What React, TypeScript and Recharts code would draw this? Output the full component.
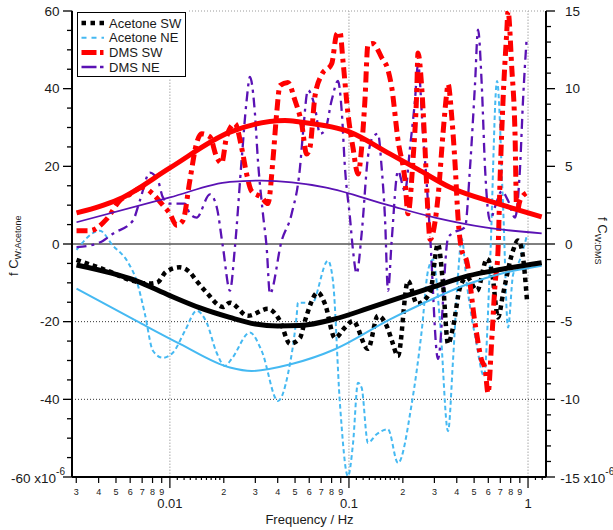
import React from "react";
import { LineChart, Line, XAxis, YAxis, ReferenceLine } from "recharts";

const FONT = "'Liberation Sans', Arial, Helvetica, sans-serif";
const INK = "#1a1a1a";

const C_BLACK = "#000000";
const C_BLUE = "#45b9f2";
const C_RED = "#ff0000";
const C_PURPLE = "#5a12b4";

// [frequency Hz, value]; Acetone on the left axis, DMS on the right axis (x10^-6)
const ACETONE_SW: [number, number][] = [
  [0.00301, -4.1], [0.00443, -6.8], [0.00621, -9.5], [0.00773, -10.2], [0.00857, -9.8],
  [0.0095, -7.2], [0.01137, -6.0], [0.01293, -7.3], [0.0141, -9.5], [0.01603, -12.5],
  [0.01978, -16.2], [0.02164, -15.1], [0.02728, -18.5], [0.03528, -16.7], [0.04118, -19.8],
  [0.04682, -25.7], [0.05325, -24.2], [0.05678, -19.8], [0.06711, -12.5], [0.07345, -15.4],
  [0.08354, -24.2], [0.095, -21.5], [0.1053, -19.8], [0.1276, -27.0], [0.1452, -18.5],
  [0.1652, -21.9], [0.1739, -25], [0.1878, -28.8], [0.2136, -9.5], [0.2399, -15.4],
  [0.2835, -12.6], [0.3142, 0], [0.3351, -10.2], [0.3575, -25.7], [0.3811, -21.5],
  [0.4171, -11.2], [0.4563, -8.6], [0.519, -12], [0.5902, -3.8], [0.6295, -7.3],
  [0.6801, -18.9], [0.7252, -12.9], [0.8245, -1.7], [0.879, 0.9], [0.9256, -1.7], [0.9872, -14.6],
];

const ACETONE_NE: [number, number][] = [
  [0.00301, -1.5], [0.00406, 3.4], [0.0048, -0.4], [0.00583, -4.7], [0.00652, -9.5],
  [0.00725, -18], [0.00804, -27.5], [0.00914, -29.3], [0.01039, -28], [0.01213, -22.4],
  [0.0141, -17.2], [0.01603, -20.2], [0.01824, -28], [0.02029, -31.4], [0.02212, -29.6],
  [0.02798, -22.8], [0.03253, -27.5], [0.04013, -40.4], [0.04563, -33.5], [0.05103, -18.5],
  [0.05189, -15.1], [0.05678, -15.1], [0.06188, -15.4], [0.07634, -4.3], [0.08141, -9.5],
  [0.08907, -41.2], [0.09872, -59.8], [0.1053, -51.5], [0.1123, -35.7], [0.1177, -37],
  [0.1276, -51.2], [0.1428, -49], [0.1652, -47.7], [0.1878, -56.4], [0.224, -41.2],
  [0.2548, -22.4], [0.2763, -6.9], [0.2946, -4], [0.3225, -20], [0.3575, -48.2],
  [0.3811, -30], [0.4065, -8], [0.4263, 1.4], [0.4545, -10], [0.5123, -25],
  [0.5679, -34], [0.6135, -5], [0.6714, 42], [0.7252, 10], [0.7732, -21.5],
  [0.8245, -8], [0.9021, -4], [0.9834, 2],
];

const DMS_SW: [number, number][] = [
  [0.00301, 0.86], [0.00357, 0.86], [0.00443, 1.6], [0.00526, 2.8], [0.00598, 3.2],
  [0.00707, 3.65], [0.0079, 3.3], [0.00914, 2.5], [0.01, 1.95], [0.0109, 1.2],
  [0.01182, 1.5], [0.01293, 4.1], [0.0141, 6.5], [0.01503, 7.1], [0.01673, 6.9],
  [0.01824, 5.6], [0.01945, 5.2], [0.02074, 6.9], [0.02308, 7.75], [0.02515, 6.2],
  [0.02683, 4.5], [0.0286, 3.4], [0.03253, 3.0], [0.03528, 2.6], [0.03762, 5.4],
  [0.03946, 8.4], [0.04118, 10.2], [0.04563, 10.4], [0.04993, 9.25], [0.05442, 7.75],
  [0.05803, 5.8], [0.06054, 6.2], [0.06457, 9.5], [0.0704, 10.9], [0.08007, 11.6],
  [0.08539, 13.5], [0.08907, 13.65], [0.09258, 11.8], [0.09872, 8.4], [0.1053, 6.2],
  [0.1123, 4.5], [0.1177, 6.2], [0.1228, 9.25], [0.1276, 12.8], [0.1362, 12.9],
  [0.1523, 12.0], [0.1652, 11.2], [0.1732, 10.1], [0.1878, 6.7], [0.2055, 4.1],
  [0.2136, 1.95], [0.2278, 5.4], [0.2389, 9.7], [0.243, 12.3], [0.2548, 10.1],
  [0.2658, 6.2], [0.2763, 1.95], [0.2835, 0.3], [0.3142, 3.0], [0.3351, 7.1],
  [0.3515, 9.7], [0.3575, 10.3], [0.3749, 8.2], [0.3911, 5.2], [0.4065, 1.7],
  [0.4263, -0.4], [0.4545, -1.1], [0.5058, -5.1], [0.5513, -7.5], [0.5753, -8.0],
  [0.5979, -9.6], [0.6271, -6.2], [0.6543, -2.6], [0.6801, -0.4], [0.6978, 4.1],
  [0.7252, 9.25], [0.7603, 13.6], [0.7732, 15], [0.8108, 11.4], [0.8459, 7.1],
  [0.8647, 2.0], [0.9021, 2.8], [0.9834, 3.3],
];

const DMS_NE: [number, number][] = [
  [0.00301, -0.2], [0.00357, -0.1], [0.00422, 0.2], [0.0048, 0.66], [0.00621, 1.5],
  [0.0068, 2.8], [0.00773, 4.6], [0.00857, 4.1], [0.00914, 3.0], [0.01, 2.6],
  [0.01213, 2.6], [0.01293, 1.95], [0.0141, 1.7], [0.01673, 3.2], [0.01824, 2.4],
  [0.01978, -0.2], [0.02164, -3.0], [0.02308, -0.2], [0.02515, 5.4], [0.02683, 9.25],
  [0.02798, 10.75], [0.02985, 8.4], [0.03101, 5.4], [0.03308, 1.95], [0.03469, -0.2],
  [0.0362, -3.2], [0.04207, 0.2], [0.04786, 1.95], [0.05325, 4.9], [0.05534, 7.1],
  [0.05901, 9.9], [0.06457, 8.8], [0.06887, 7.1], [0.07345, 7.3], [0.08007, 9.25],
  [0.08682, 10.5], [0.09105, 8.6], [0.095, 4.9], [0.1013, 1.7], [0.1053, -0.4],
  [0.1104, -1.9], [0.1177, 0.66], [0.1276, 5.6], [0.1362, 6.9], [0.1452, 7.1],
  [0.1523, 4.9], [0.1589, 1.7], [0.1652, -3.0], [0.1732, 0.2], [0.1878, 4.7],
  [0.2055, 3.4], [0.2192, 6.2], [0.2337, 9.25], [0.243, 11.6], [0.2591, 7.1],
  [0.2717, 3.9], [0.2835, 0.66], [0.3142, -7.4], [0.3575, 0.4], [0.3749, 0.66],
  [0.4446, 1.07], [0.4742, 4.9], [0.5058, 10.3], [0.5257, 13.8], [0.5513, 10.3],
  [0.5753, 4.9], [0.6135, 1.5], [0.6543, 2.4], [0.7132, 3.4], [0.7732, 2.8],
  [0.8459, 1.7], [0.9021, 4.9], [0.9377, 9.25], [0.9834, 13.3],
];

// fitted curves
const ACETONE_SW_FIT: [number, number][] = [
  [0.00301, -5.4], [0.0065, -9.5], [0.01, -13.3], [0.0146, -16.4], [0.0216, -18.9],
  [0.03, -20.6], [0.04, -21.1], [0.053, -21.0], [0.0835, -19.3], [0.1276, -16.6],
  [0.1878, -14.0], [0.2763, -11.5], [0.4622, -8.2], [0.7132, -6.5], [1.192, -4.8],
];
const ACETONE_NE_FIT: [number, number][] = [
  [0.00301, -11.5], [0.0065, -19.8], [0.01137, -25.7], [0.02164, -31.8], [0.0286, -32.7],
  [0.04786, -30.9], [0.08354, -27.1], [0.1695, -19.4], [0.243, -15.9], [0.4622, -10.3],
  [0.7132, -7.6], [1.192, -5.6],
];
const DMS_SW_FIT: [number, number][] = [
  [0.00301, 2.0], [0.00546, 3.0], [0.01, 4.9], [0.02164, 7.2], [0.0439, 7.95],
  [0.0532, 7.85], [0.1013, 7.2], [0.1695, 5.8], [0.243, 4.8], [0.3667, 3.65],
  [0.6978, 2.55], [1.192, 1.75],
];
const DMS_NE_FIT: [number, number][] = [
  [0.00301, 1.4], [0.01, 3.0], [0.02164, 4.0], [0.03253, 4.08], [0.07345, 3.65],
  [0.1695, 2.47], [0.3023, 1.7], [0.5753, 1.07], [1.192, 0.68],
];

const X_MAJOR: [number, string][] = [[0.01, "0.01"], [0.1, "0.1"], [1, "1"]];
const X_MINOR: [number, string][] = [
  [0.003, "3"], [0.004, "4"], [0.005, "5"], [0.006, "6"], [0.007, "7"], [0.008, "8"], [0.009, "9"],
  [0.02, "2"], [0.03, "3"], [0.04, "4"], [0.05, "5"], [0.06, "6"], [0.07, "7"], [0.08, "8"], [0.09, "9"],
  [0.2, "2"], [0.3, "3"], [0.4, "4"], [0.5, "5"], [0.6, "6"], [0.7, "7"], [0.8, "8"], [0.9, "9"],
];
const X_SUB = [
  0.011, 0.012, 0.013, 0.014, 0.015, 0.016, 0.017, 0.018, 0.019,
  0.11, 0.12, 0.13, 0.14, 0.15, 0.16, 0.17, 0.18, 0.19, 1.1, 1.2,
];
const X_TICKS = [...X_MAJOR.map((t) => t[0]), ...X_MINOR.map((t) => t[0]), ...X_SUB].sort((a, b) => a - b);

const LEFT_TICKS = [-60, -55, -50, -45, -40, -35, -30, -25, -20, -15, -10, -5, 0, 5, 10, 15, 20, 25, 30, 35, 40, 45, 50, 55, 60];
const RIGHT_TICKS = [-15, -14, -13, -12, -11, -10, -9, -8, -7, -6, -5, -4, -3, -2, -1, 0, 1, 2, 3, 4, 5, 6, 7, 8, 9, 10, 11, 12, 13, 14, 15];

const toRows = (pts: [number, number][]) => pts.map(([f, v]) => ({ f, v }));

const SERIES = [
  { name: "Acetone NE", data: ACETONE_NE, axis: "left", color: C_BLUE, width: 2, dash: "4.5 3" },
  { name: "DMS NE", data: DMS_NE, axis: "right", color: C_PURPLE, width: 2.3, dash: "10 5 3 5" },
  { name: "Acetone SW", data: ACETONE_SW, axis: "left", color: C_BLACK, width: 4.5, dash: "4.5 4" },
  { name: "DMS SW", data: DMS_SW, axis: "right", color: C_RED, width: 5, dash: "11 5 4 5" },
  { name: "Acetone NE fit", data: ACETONE_NE_FIT, axis: "left", color: C_BLUE, width: 2, dash: undefined },
  { name: "DMS NE fit", data: DMS_NE_FIT, axis: "right", color: C_PURPLE, width: 1.8, dash: undefined },
  { name: "Acetone SW fit", data: ACETONE_SW_FIT, axis: "left", color: C_BLACK, width: 5, dash: undefined },
  { name: "DMS SW fit", data: DMS_SW_FIT, axis: "right", color: C_RED, width: 5, dash: undefined },
];

const LEGEND = [
  { name: "Acetone SW", color: C_BLACK, width: 4.5, dash: "4.5 4.5" },
  { name: "Acetone NE", color: C_BLUE, width: 2, dash: "5 5" },
  { name: "DMS SW", color: C_RED, width: 5, dash: "15 3.5 3.5 5" },
  { name: "DMS NE", color: C_PURPLE, width: 2.5, dash: "15 3.5 3.5 5" },
];

const XTick = (props: any) => {
  const { x, y, payload } = props;
  const v = payload.value;
  const major = X_MAJOR.find((t) => t[0] === v);
  const minor = X_MINOR.find((t) => t[0] === v);
  const len = major ? 11 : minor ? 6 : 3;
  return (
    <g>
      <line x1={x} x2={x} y1={y} y2={y + len} stroke="#000" strokeWidth={1.2} />
      {minor && (
        <text x={x} y={y + 18} textAnchor="middle" fontSize={9} fontFamily={FONT} fill={INK}>
          {minor[1]}
        </text>
      )}
      {major && (
        <text x={x} y={y + 31} textAnchor="middle" fontSize={13} fontFamily={FONT} fill={INK}>
          {major[1]}
        </text>
      )}
    </g>
  );
};

const LeftTick = (props: any) => {
  const { x, y, payload } = props;
  const v = payload.value;
  const major = v % 20 === 0;
  return (
    <g>
      <line x1={x - (major ? 9 : 5)} x2={x} y1={y} y2={y} stroke="#000" strokeWidth={1.3} />
      {major && v !== -60 && (
        <text x={x - 12.5} y={y + 4.5} textAnchor="end" fontSize={13.5} fontFamily={FONT} fill={INK}>
          {v}
        </text>
      )}
      {v === -60 && (
        <text x={x - 7} y={y + 6} textAnchor="end" fontSize={13.5} fontFamily={FONT} fill={INK}>
          -60 x10<tspan dy={-8} fontSize={10}>-6</tspan>
        </text>
      )}
    </g>
  );
};

const RightTick = (props: any) => {
  const { x, y, payload } = props;
  const v = payload.value;
  const major = v % 5 === 0;
  const tx = x + 19 - (v < 0 ? 4.7 : 0);
  return (
    <g>
      <line x1={x} x2={x + (major ? 9 : 5)} y1={y} y2={y} stroke="#000" strokeWidth={1.3} />
      {major && v !== -15 && (
        <text x={tx} y={y + 4.5} textAnchor="start" fontSize={13.5} fontFamily={FONT} fill={INK}>
          {v}
        </text>
      )}
      {v === -15 && (
        <text x={tx} y={y + 6} textAnchor="start" fontSize={13.5} fontFamily={FONT} fill={INK}>
          -15 x10<tspan dy={-8} fontSize={10}>-6</tspan>
        </text>
      )}
    </g>
  );
};

export default function App() {
  return (
    <div style={{ position: "absolute", left: 0, top: 0, width: 613, height: 530, background: "#fff" }}>
      <LineChart width={613} height={530} margin={{ top: 11, right: 0, left: 0, bottom: 0 }}>
        <XAxis
          type="number"
          dataKey="f"
          scale="log"
          domain={[0.00284, 1.26]}
          allowDataOverflow
          ticks={X_TICKS}
          interval={0}
          tick={XTick}
          tickLine={false}
          tickSize={0}
          tickMargin={0}
          height={53}
          axisLine={{ stroke: "#000", strokeWidth: 2 }}
        />
        <YAxis
          yAxisId="left"
          type="number"
          domain={[-60, 60]}
          allowDataOverflow
          ticks={LEFT_TICKS}
          interval={0}
          tick={LeftTick}
          tickLine={false}
          tickSize={0}
          tickMargin={0}
          width={72}
          axisLine={{ stroke: "#000", strokeWidth: 2 }}
        />
        <YAxis
          yAxisId="right"
          orientation="right"
          type="number"
          domain={[-15, 15]}
          allowDataOverflow
          ticks={RIGHT_TICKS}
          interval={0}
          tick={RightTick}
          tickLine={false}
          tickSize={0}
          tickMargin={0}
          width={67}
          axisLine={{ stroke: "#000", strokeWidth: 2 }}
        />
        <ReferenceLine yAxisId="left" y={60} stroke="#9a9a9a" strokeDasharray="1 2" />
        <ReferenceLine yAxisId="left" y={-20} stroke="#333" strokeDasharray="1 2" />
        <ReferenceLine yAxisId="left" y={-40} stroke="#333" strokeDasharray="1 2" />
        {X_MAJOR.map(([v]) => (
          <ReferenceLine key={v} yAxisId="left" x={v} stroke="#a8a8a8" strokeDasharray="1.5 1.5" />
        ))}
        <ReferenceLine yAxisId="left" y={0} stroke="#000" strokeWidth={1} />
        {SERIES.map((s) => (
          <Line
            key={s.name}
            yAxisId={s.axis}
            data={toRows(s.data)}
            dataKey="v"
            type="monotone"
            stroke={s.color}
            strokeWidth={s.width}
            strokeDasharray={s.dash}
            dot={false}
            activeDot={false}
            isAnimationActive={false}
          />
        ))}
      </LineChart>
      <svg width={613} height={530} style={{ position: "absolute", left: 0, top: 0, pointerEvents: "none" }}>
        <rect x={74} y={8} width={114} height={71} fill="#fff" />
        <rect x={77.5} y={12.5} width={108} height={64} fill="#fff" stroke="#000" strokeWidth={1} />
        {LEGEND.map((l, i) => {
          const cy = 23 + i * 14.7;
          return (
            <g key={l.name}>
              <line x1={81.5} x2={104} y1={cy} y2={cy} stroke={l.color} strokeWidth={l.width} strokeDasharray={l.dash} />
              <text x={109} y={cy + 4.5} fontSize={13} fontFamily={FONT} fill={INK}>
                {l.name}
              </text>
            </g>
          );
        })}
        <text transform="translate(18,276) rotate(-90)" fontSize={13} fontFamily={FONT} fill={INK}>
          f C<tspan dy={3} fontSize={9}>W:Acetone</tspan>
        </text>
        <text transform="translate(598,217) rotate(90)" fontSize={13} fontFamily={FONT} fill={INK}>
          f C<tspan dy={3} fontSize={9}>W:DMS</tspan>
        </text>
        <text x={309.5} y={524} textAnchor="middle" fontSize={13} fontFamily={FONT} fill={INK}>
          Frequency / Hz
        </text>
      </svg>
    </div>
  );
}
